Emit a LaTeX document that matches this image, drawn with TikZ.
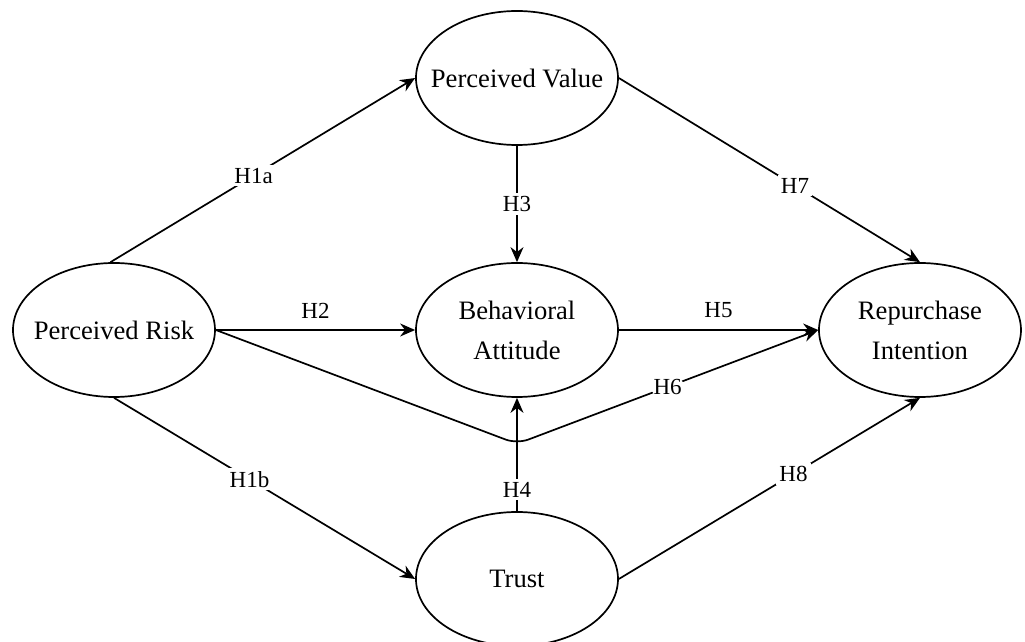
\documentclass[tikz,border=0pt]{standalone}
\usepackage{fontspec}
\setmainfont{Liberation Serif}
\usetikzlibrary{shapes.geometric,arrows.meta,positioning}
\tikzset{node distance=201.5pt, >={Stealth[length=7.5pt,width=6.5pt]},
  construct/.style={ellipse, draw, minimum width=101pt, minimum height=67pt, inner sep=0pt},
  hyp/.style={fill=white, inner sep=1.5pt, font=\fontsize{11.5}{13}\selectfont}}

\begin{document}
\begin{tikzpicture}[line width=0.85pt,
    every label/.style={font=\fontsize{13.3}{20}\selectfont, align=center}]
                \useasboundingbox (-258.5pt,-156pt) rectangle (254pt,165pt);
                \node[construct, label={center:Behavioral\\Attitude}] (BA) {};
                \node[construct, label={center:Perceived Risk}] (PR) [left of=BA] {};
                \node[construct, label={center:Repurchase\\Intention}] (RI) [right of=BA] {};
                \node[construct, label={center:Perceived Value}] (PV) [above of=BA, node distance=126pt] {};
                \node[construct, label={center:Trust}] (TR) [below of=BA, node distance=124.5pt] {};
                \coordinate (dip) at ([yshift=-23pt]BA.south);
                \draw[->] (PR.93) to node[hyp, pos=0.47] {H1a} (PV.west);
                \draw[->] (PR.south) to node[hyp, pos=0.45] {H1b} (TR.west);
                \draw[->] (PR.east) to node[hyp, above=4pt, fill=none] {H2} (BA.west);
                \draw[->] (PV.south) to node[hyp] {H3} (BA.north);
                \draw[->] (TR.north) to node[hyp, pos=0.19] {H4} (BA.south);
                \draw[->] (BA.east) to node[hyp, above=4pt, fill=none] {H5} (RI.west);
                \draw[->, rounded corners=6pt] (PR.east) -- (dip) -- node[hyp] {H6} (RI.west);
                \draw[->] (PV.east) to node[hyp, pos=0.585] {H7} (RI.north);
                \draw[->] (TR.east) to node[hyp, pos=0.58] {H8} (RI.south);
              \end{tikzpicture}
\end{document}
